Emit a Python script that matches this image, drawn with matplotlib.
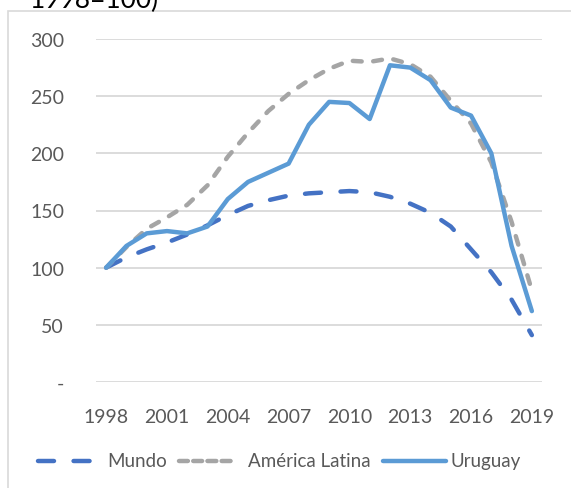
import numpy as np
import matplotlib
matplotlib.use("Agg")
import matplotlib.pyplot as plt
from matplotlib.lines import Line2D
from matplotlib.patches import Rectangle

# índices 1998=100
anos = list(range(1998, 2020))
mundo = [100, 109, 116, 122, 129, 137, 146, 154, 159, 163, 165, 166, 167, 166,
         162, 156, 148, 136, 116, 96, 72, 41]
america_latina = [100, 118, 134, 144, 155, 172, 197, 218, 237, 252, 264, 274,
                  281, 280, 283, 278, 267, 246, 226, 192, 140, 80]
uruguay = [100, 119, 130, 132, 130, 136, 160, 175, 183, 191, 225, 245, 244, 230,
           277, 275, 264, 240, 233, 200, 119, 62]
series = ["Mundo", "América Latina", "Uruguay"]
ticks_x = [1998, 2001, 2004, 2007, 2010, 2013, 2016, 2019]
ticks_y = [0, 50, 100, 150, 200, 250, 300]
ticks_y_lbl = ["-", "50", "100", "150", "200", "250", "300"]

plt.rcParams["font.family"] = ["Lato", "DejaVu Sans"]

c_mundo, c_al, c_uy = "#4472C4", "#A5A5A5", "#5B9BD5"
txt = "#595959"
W, H = 571, 489

fig = plt.figure(figsize=(5.71, 4.89), dpi=100)
ax = fig.add_axes([96/W, 1-383/H, 446/W, 343/H])

st_mundo = dict(color=c_mundo, lw=3.2, dashes=(3.6, 4.4), dash_capstyle="round")
st_al = dict(color=c_al, lw=3.2, dashes=(2.0, 2.6), dash_capstyle="round")
st_uy = dict(color=c_uy, lw=3.2, solid_capstyle="round")

ax.plot(anos, mundo, **st_mundo)
ax.plot(anos, america_latina, **st_al)
ax.plot(anos, uruguay, **st_uy)

ax.set_xlim(1997.5, 2019.5)
ax.set_ylim(0, 300)
ax.set_xticks(ticks_x)
ax.set_yticks(ticks_y)
ax.set_yticklabels(ticks_y_lbl)
ax.tick_params(length=0, labelsize=14, colors=txt)
ax.tick_params(axis="y", pad=23)
ax.tick_params(axis="x", pad=19)
ax.grid(axis="y", color="#D9D9D9", lw=1.3)
ax.set_axisbelow(True)
for s in ax.spines.values():
    s.set_visible(False)

# borde del gráfico y título recortado
fig.patches.append(Rectangle((8/W, -0.1), 1.2, 1.1 - 12/H,
                             transform=fig.transFigure, fill=False,
                             ec="#D9D9D9", lw=1.2))
fig.text(30/W, 1-8/H, "1998=100)", fontsize=19, color="black",
         va="baseline", ha="left")

# leyenda dibujada a mano
ly = 1 - 462/H
leg = [(st_mundo, (38, 92), 107, series[0]),
       (dict(st_al, dashes=(2.0, 1.2)), (179, 231), 248, series[1]),
       (st_uy, (383, 446), 450, series[2])]
for st, (x0, x1), xt, name in leg:
    fig.add_artist(Line2D([x0/W, x1/W], [ly, ly], transform=fig.transFigure, **st))
    fig.text(xt/W, ly, name, fontsize=13.5, color=txt, va="center", ha="left")

fig.savefig("out.png", dpi=100)
